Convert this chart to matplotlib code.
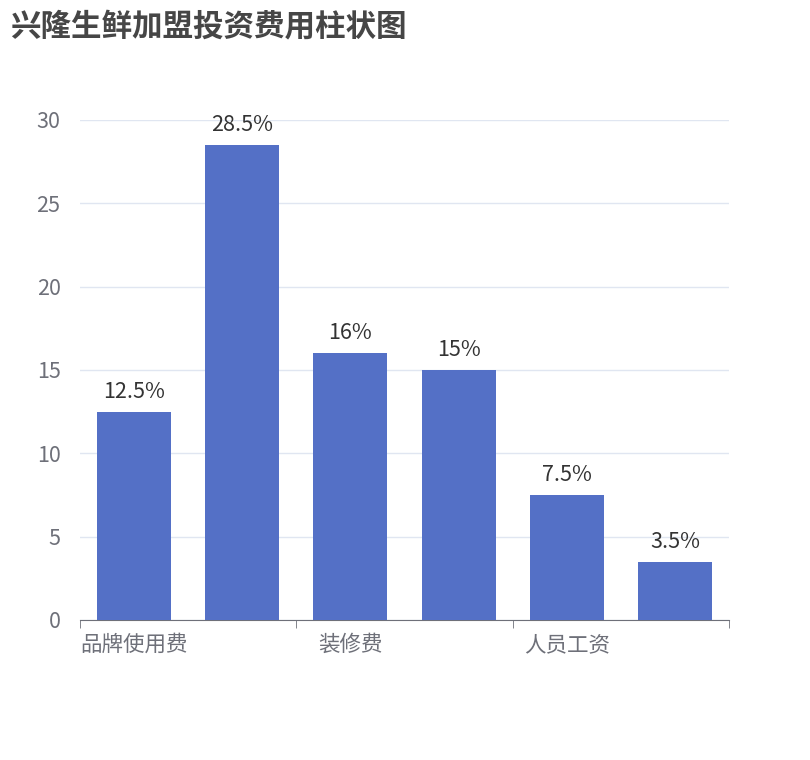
import matplotlib.pyplot as plt

plt.rcParams['font.family'] = ['Noto Sans CJK SC', 'DejaVu Sans']

# every second category name is hidden by the axis label interval
categories = ["品牌使用费", "加盟费", "装修费", "设备费", "人员工资", "其他费用"]
values = [12.5, 28.5, 16, 15, 7.5, 3.5]
labels = ["12.5%", "28.5%", "16%", "15%", "7.5%", "3.5%"]

fig = plt.figure(figsize=(8.1, 7.6), dpi=100)
ax = fig.add_axes([80 / 810, 1 - 620 / 760, 649 / 810, 500 / 760])

x = range(len(categories))
bars = ax.bar(x, values, width=0.685, color="#5470c6", zorder=3)
for b, lab in zip(bars, labels):
    ax.text(b.get_x() + b.get_width() / 2, b.get_height() + 0.55, lab,
            ha="center", va="bottom", fontsize=15.5, color="#333333")

ax.set_xlim(-0.5, len(categories) - 0.5)
ax.set_ylim(0, 30)
ax.set_yticks([0, 5, 10, 15, 20, 25, 30])
ax.yaxis.grid(True, color="#e0e6f1", linewidth=1)
ax.tick_params(axis="y", length=0, labelsize=15.5, labelcolor="#6e7079", pad=14)

ax.set_xticks([0, 2, 4])
ax.set_xticklabels([categories[i] for i in (0, 2, 4)])
ax.tick_params(axis="x", length=0, labelsize=15.5, labelcolor="#6e7079", pad=10)
ax.set_xticks([-0.5, 1.5, 3.5, 5.5], minor=True)
ax.tick_params(axis="x", which="minor", length=6, color="#6e7079", direction="out")

for s in ("top", "right", "left"):
    ax.spines[s].set_visible(False)
ax.spines["bottom"].set_color("#6e7079")

fig.text(10 / 810, 1 - 26 / 760, "兴隆生鲜加盟投资费用柱状图", fontsize=22,
         fontweight="bold", color="#464646", va="center", ha="left")

fig.savefig("out.png")
